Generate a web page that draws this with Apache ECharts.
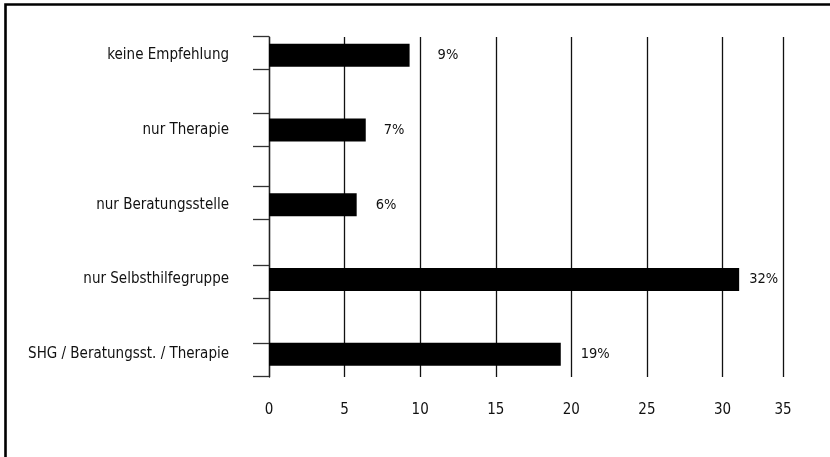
<!DOCTYPE html>
<html>
<head>
<meta charset="utf-8">
<script src="https://cdn.jsdelivr.net/npm/echarts@6/dist/echarts.min.js"></script>
<style>
html,body{margin:0;padding:0;background:#fff;}
#chart{width:830px;height:457px;}
</style>
</head>
<body>
<div id="chart"></div>
<script>
const categories = ['keine Empfehlung', 'nur Therapie', 'nur Beratungsstelle', 'nur Selbsthilfegruppe', 'SHG / Beratungsst. / Therapie'];
const values = [9.3, 6.4, 5.8, 31.1, 19.3];
const valueLabels = ['9%', '7%', '6%', '32%', '19%'];
const xTickLabels = ['0', '5', '10', '15', '20', '25', '30', '35'];

const FONT = "'DejaVu Sans Condensed', 'Liberation Sans Narrow', sans-serif";
const xMax = 34;
const labelGaps = [28, 18, 19, 10, 20];
// tick bracket offsets (in category units) around each bar, as drawn in the original
const tickBrackets = [[-0.25, 0.19], [-0.22, 0.22], [-0.25, 0.2], [-0.19, 0.25], [-0.15, 0.3]];
const tickValues = [];
categories.forEach((c, i) => tickBrackets[i].forEach(o => tickValues.push(i + o)));

const chart = echarts.init(document.getElementById('chart'), null, {renderer: 'canvas'});
chart.setOption({
  animation: false,
  backgroundColor: '#fff',
  graphic: [{
    type: 'rect', silent: true,
    shape: {x: 5.5, y: 4.5, width: 900, height: 600},
    style: {fill: 'none', stroke: '#000', lineWidth: 2.6}
  }],
  grid: [
    {left: 269, right: 47, top: 37, height: 340},
    {left: 269, right: 47, top: 18, height: 373.5}
  ],
  xAxis: [
    {
      type: 'value', gridIndex: 0, min: 0, max: xMax, interval: 5,
      axisLine: {show: false}, axisTick: {show: false},
      axisLabel: {
        margin: 26, color: '#111', fontFamily: FONT, fontSize: 15,
        showMaxLabel: true,
        formatter: (v, i) => xTickLabels[i]
      },
      splitLine: {show: true, lineStyle: {color: '#111', width: 1.3}}
    },
    {
      type: 'value', gridIndex: 1, min: 0, max: xMax, show: false
    }
  ],
  yAxis: [
    {
      type: 'value', gridIndex: 0, position: 'left',
      axisLine: {show: true, lineStyle: {color: '#222', width: 1.3}},
      axisTick: {show: false}, axisLabel: {show: false}, splitLine: {show: false}
    },
    {
      type: 'category', gridIndex: 1, data: categories, inverse: true,
      axisLine: {show: false}, axisTick: {show: false}, splitLine: {show: false},
      axisLabel: {margin: 40, color: '#111', fontFamily: FONT, fontSize: 15}
    },
    {
      type: 'value', gridIndex: 1, min: -0.5, max: 4.5, inverse: true, position: 'left',
      axisLine: {show: false},
      axisTick: {show: true, customValues: tickValues, length: 16, lineStyle: {color: '#333', width: 1.3}},
      axisLabel: {show: false}, splitLine: {show: false}
    }
  ],
  series: [{
    type: 'bar',
    xAxisIndex: 1, yAxisIndex: 1,
    barWidth: 23,
    itemStyle: {color: '#000'},
    data: values.map((v, i) => ({
      value: v,
      label: {
        show: true, position: 'right', distance: labelGaps[i],
        formatter: valueLabels[i],
        color: '#111', fontFamily: FONT, fontSize: 14.5
      }
    }))
  }]
});
</script>
</body>
</html>
